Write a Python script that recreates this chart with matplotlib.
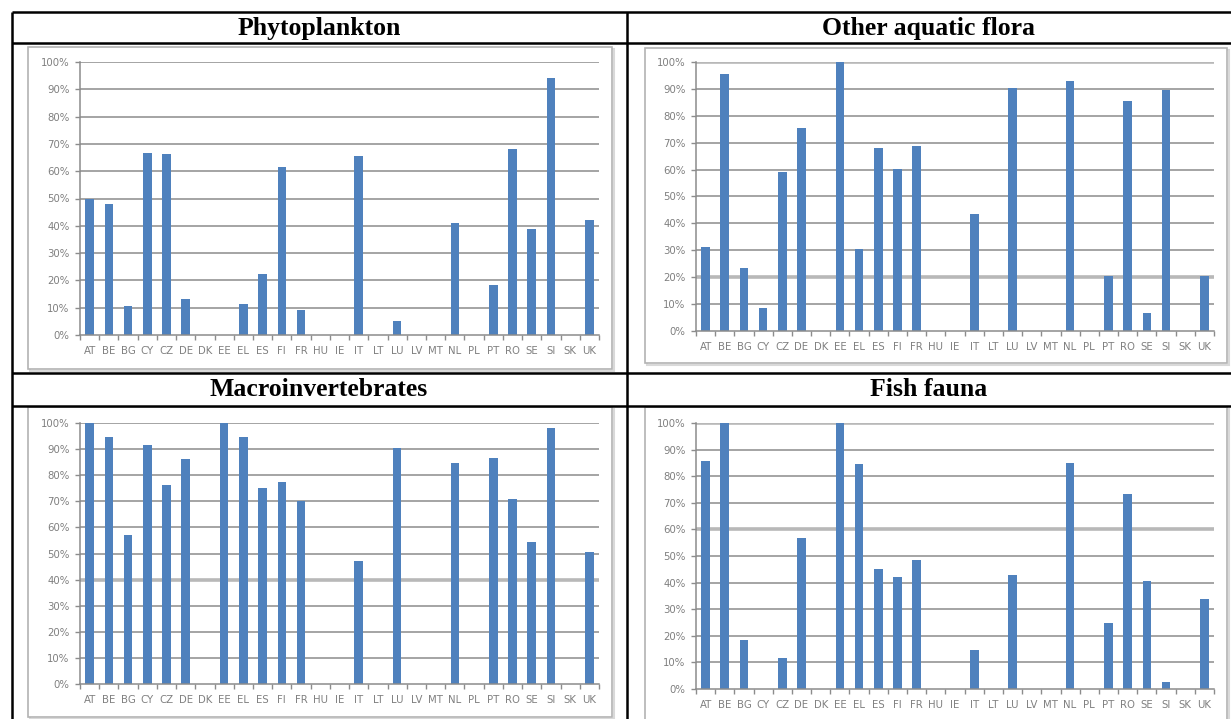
import numpy as np
import matplotlib
matplotlib.use("Agg")
import matplotlib.pyplot as plt
import matplotlib.ticker as mticker
from matplotlib.patches import Rectangle

countries = ['AT', 'BE', 'BG', 'CY', 'CZ', 'DE', 'DK', 'EE', 'EL', 'ES', 'FI', 'FR', 'HU', 'IE',
             'IT', 'LT', 'LU', 'LV', 'MT', 'NL', 'PL', 'PT', 'RO', 'SE', 'SI', 'SK', 'UK']

phytoplankton = [50, 48, 10.5, 66.7, 66.2, 13.2, 0, 0, 11.3, 22.3, 61.6, 9.1, 0, 0,
                 65.7, 0, 5, 0, 0, 41.1, 0, 18.2, 68, 38.7, 94.3, 0, 42.1]
aquatic_flora = [31.1, 95.4, 23.5, 8.5, 59.2, 75.6, 0, 100, 30.4, 68.2, 60.4, 68.7, 0, 0,
                 43.6, 0, 90.2, 0, 0, 92.8, 0, 20.4, 85.5, 6.6, 89.7, 0, 20.5]
macroinvertebrates = [100, 94.8, 57, 91.4, 76.4, 86.2, 0, 100, 94.8, 75.1, 77.4, 70, 0, 0,
                      47.1, 0, 90.3, 0, 0, 84.5, 0, 86.6, 70.8, 54.4, 98.1, 0, 50.6]
fish_fauna = [85.6, 100, 18.6, 0, 11.6, 56.6, 0, 100, 84.4, 45.1, 42.2, 48.4, 0, 0,
              14.6, 0, 43, 0, 0, 85.1, 0, 24.7, 73.2, 40.6, 2.5, 0, 34]

titles = ['Phytoplankton', 'Other aquatic flora', 'Macroinvertebrates', 'Fish fauna']

W, H = 1231, 719
BAR = '#4f81bd'
GRID = '#8c8c8c'
TXT = '#7f7f7f'

fig = plt.figure(figsize=(W / 100, H / 100), dpi=100)

# background layer in pixel coordinates: table lines, chart boxes, headers
bg = fig.add_axes([0, 0, 1, 1])
bg.set_xlim(0, W)
bg.set_ylim(H, 0)
bg.axis('off')

lw_tab = 1.8
for y in [12, 43, 373, 406]:
    bg.plot([12, W + 5], [y, y], color='black', lw=lw_tab, solid_capstyle='butt')
for x in [12, 627]:
    bg.plot([x, x], [12, H + 5], color='black', lw=lw_tab, solid_capstyle='butt')

# chart frames (left, top, right, bottom)
frames = [(28, 47, 612, 369), (645, 48, 1227, 363), (28, 407, 612, 717), (645, 407, 1227, 725)]
for (l, t, r, b) in frames:
    bg.add_patch(Rectangle((l + 1.5, t + 1.5), r - l, b - t, facecolor='none', edgecolor='#d9d9d9', lw=1.5))
    bg.add_patch(Rectangle((l, t), r - l, b - t, facecolor='white', edgecolor='#b3b3b3', lw=1.2))

header_pos = [(319, 28), (929, 28), (319, 390), (929, 390)]
for (hx, hy), title in zip(header_pos, titles):
    bg.text(hx, hy, title, ha='center', va='center', fontsize=18.5, fontweight='bold',
            family='Liberation Serif', color='black')

# plot areas in pixels: x0, x1, y(100%), y(0%)
areas = [(80, 599, 62, 335), (696, 1214, 62, 331), (80, 599, 423, 684), (696, 1214, 423, 689)]
series = [phytoplankton, aquatic_flora, macroinvertebrates, fish_fauna]
# gridlines that look heavier in the original
heavy = [[], [100, 20], [40], [100, 60]]

x = np.arange(len(countries))
for (x0, x1, ytop, ybot), vals, hv in zip(areas, series, heavy):
    ax = fig.add_axes([x0 / W, 1 - ybot / H, (x1 - x0) / W, (ybot - ytop) / H])
    ax.set_facecolor('none')
    ax.set_xlim(-0.5, len(countries) - 0.5)
    ax.set_ylim(0, 100)
    for g in range(10, 101, 10):
        if g in hv:
            ax.axhline(g, color='#b8b8b8', lw=2.6, zorder=0.5)
        else:
            ax.axhline(g, color=GRID, lw=1.1, zorder=0.5)
    ax.bar(x, vals, width=0.45, color=BAR, zorder=2)

    ax.yaxis.set_major_locator(mticker.MultipleLocator(10))
    ax.yaxis.set_major_formatter(mticker.PercentFormatter(decimals=0))
    ax.set_xticks(x)
    ax.set_xticklabels(countries)
    ax.set_xticks(np.arange(-0.5, len(countries)), minor=True)
    ax.tick_params(axis='x', which='major', length=0, pad=8, labelsize=7.3, labelcolor=TXT)
    ax.tick_params(axis='x', which='minor', length=3.5, width=1, color=GRID, direction='out')
    ax.tick_params(axis='y', which='major', length=3.5, width=1, color=GRID, pad=4,
                   labelsize=7.3, labelcolor=TXT)
    for s in ['top', 'right']:
        ax.spines[s].set_visible(False)
    for s in ['left', 'bottom']:
        ax.spines[s].set_color(GRID)
        ax.spines[s].set_linewidth(1.1)

fig.savefig('out.png', dpi=100)
